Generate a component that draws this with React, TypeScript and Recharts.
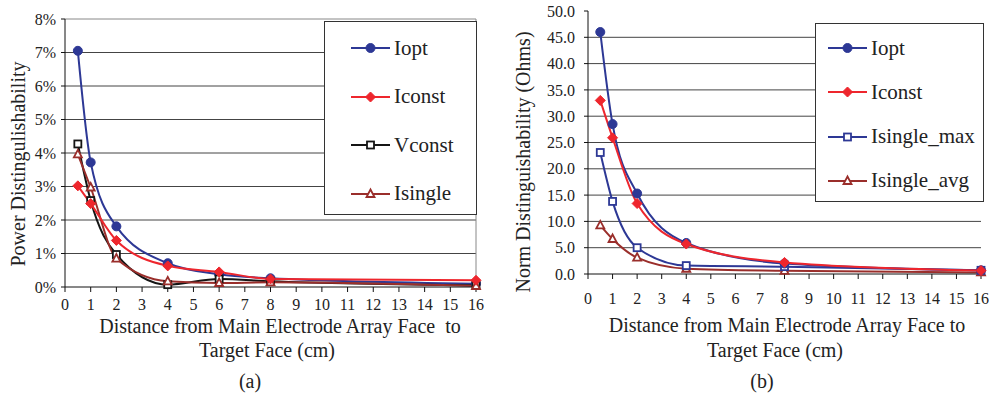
import { LineChart, Line, XAxis, YAxis, CartesianGrid, ReferenceLine } from 'recharts';

const SERIF = '"Liberation Serif", "Times New Roman", serif';

// (a) power distinguishability, percent
const distA = [0.5, 1, 2, 4, 6, 8, 16];
const ioptA = [7.05, 3.72, 1.81, 0.71, 0.38, 0.26, 0.1];
const iconstA = [3.02, 2.49, 1.39, 0.63, 0.45, 0.24, 0.2];
const vconstA = [4.27, 2.58, 0.97, 0.07, 0.24, 0.17, 0.05];
const isingleA = [3.96, 2.97, 0.85, 0.17, 0.12, 0.14, 0.03];

// (b) norm distinguishability, ohms
const distB = [0.5, 1, 2, 4, 8, 16];
const ioptB = [46.0, 28.5, 15.3, 5.9, 2.0, 0.7];
const iconstB = [33.0, 25.9, 13.4, 5.7, 2.2, 0.65];
const isMaxB = [23.1, 13.8, 5.0, 1.6, 1.4, 0.7];
const isAvgB = [9.25, 6.65, 3.1, 1.0, 0.6, 0.3];

const xTicks = [0, 1, 2, 3, 4, 5, 6, 7, 8, 9, 10, 11, 12, 13, 14, 15, 16];
const yTicksA = [0, 1, 2, 3, 4, 5, 6, 7, 8];
const yTicksB = [0, 5, 10, 15, 20, 25, 30, 35, 40, 45, 50];

const BLUE = '#2d3895';
const RED = '#ee262d';
const BLACK = '#151515';
const DARKRED = '#9a2e2b';

const dataA = distA.map((d, i) => ({ d, iopt: ioptA[i], iconst: iconstA[i], vconst: vconstA[i], isingle: isingleA[i] }));
const dataB = distB.map((d, i) => ({ d, iopt: ioptB[i], iconst: iconstB[i], isMax: isMaxB[i], isAvg: isAvgB[i] }));

type Shape = 'circle' | 'diamond' | 'square' | 'triangle';

const Marker = ({ x, y, shape, color }: { x: number; y: number; shape: Shape; color: string }) => {
  if (shape === 'circle') return <circle cx={x} cy={y} r={4.5} fill={color} stroke={color} />;
  if (shape === 'diamond')
    return <path d={`M${x},${y - 5}L${x + 5},${y}L${x},${y + 5}L${x - 5},${y}Z`} fill={color} stroke={color} />;
  if (shape === 'square')
    return <rect x={x - 3.5} y={y - 3.5} width={7} height={7} fill="#fff" stroke={color} strokeWidth={1.8} />;
  return <path d={`M${x},${y - 4.5}L${x + 4},${y + 3}L${x - 4},${y + 3}Z`} fill="#fff" stroke={color} strokeWidth={1.8} />;
};

const dotFor = (shape: Shape, color: string) => (p: any) => (
  <Marker key={p.index} x={p.cx} y={p.cy} shape={shape} color={color} />
);

type Item = { name: string; shape: Shape; color: string };

const LegendBox = ({ items, style, gap, first, pad }: { items: Item[]; style: any; gap: number; first: number; pad: number }) => (
  <div style={{ position: 'absolute', background: '#fff', border: '1px solid #333', boxSizing: 'border-box', ...style }}>
    {items.map((it, i) => (
      <div key={it.name} style={{ position: 'absolute', left: pad, top: first - 13 + i * gap, display: 'flex', alignItems: 'center', height: 26 }}>
        <svg width={39} height={14}>
          <line x1={0} y1={7} x2={39} y2={7} stroke={it.color} strokeWidth={2} />
          <Marker x={19.5} y={7} shape={it.shape} color={it.color} />
        </svg>
        <span style={{ fontFamily: SERIF, fontSize: 21, color: '#222', marginLeft: 4, whiteSpace: 'nowrap' }}>{it.name}</span>
      </div>
    ))}
  </div>
);

const tickStyle = { fontFamily: SERIF, fontSize: 16, fill: '#222' };

const Label = ({ left, top, children, size = 20 }: { left: number; top: number; children: any; size?: number }) => (
  <div
    style={{
      position: 'absolute', left, top, transform: 'translate(-50%, -50%)', fontFamily: SERIF,
      fontSize: size, color: '#222', whiteSpace: 'pre',
    }}
  >
    {children}
  </div>
);

const vLabel = { position: 'absolute' as const, transform: 'translate(-50%, -50%) rotate(-90deg)', fontFamily: SERIF, fontSize: 20, color: '#222', whiteSpace: 'nowrap' as const };

const App = () => {
  return (
    <div style={{ position: 'absolute', left: 0, top: 0, width: 989, height: 396, background: '#fff', overflow: 'hidden' }}>
      <div style={{ position: 'absolute', left: 0, top: 0 }}>
        <LineChart width={495} height={396} data={dataA} margin={{ top: 19, right: 19, bottom: 79, left: 0 }}>
          <CartesianGrid vertical={false} stroke="#444" horizontalValues={[1, 2, 3, 4, 5, 6, 7]} />
          <ReferenceLine y={8} stroke="#888" />
          <ReferenceLine x={16} stroke="#888" />
          <XAxis
            dataKey="d" type="number" domain={[0, 16]} ticks={xTicks} interval={0} height={30}
            stroke="#111" tickSize={5} tickMargin={7} tick={tickStyle}
          />
          <YAxis
            type="number" domain={[0, 8]} ticks={yTicksA} width={65} stroke="#111" tickSize={4} tickMargin={5}
            tick={tickStyle} tickFormatter={(v) => `${v}%`}
          />
          <Line type="monotone" dataKey="iopt" stroke={BLUE} strokeWidth={2} dot={dotFor('circle', BLUE)} isAnimationActive={false} />
          <Line type="monotone" dataKey="vconst" stroke={BLACK} strokeWidth={2} dot={dotFor('square', BLACK)} isAnimationActive={false} />
          <Line type="monotone" dataKey="isingle" stroke={DARKRED} strokeWidth={2} dot={dotFor('triangle', DARKRED)} isAnimationActive={false} />
          <Line type="monotone" dataKey="iconst" stroke={RED} strokeWidth={2} dot={dotFor('diamond', RED)} isAnimationActive={false} />
        </LineChart>
      </div>
      <div style={{ position: 'absolute', left: 495, top: 0 }}>
        <LineChart width={494} height={396} data={dataB} margin={{ top: 11, right: 8, bottom: 92, left: 0 }}>
          <CartesianGrid vertical={false} stroke="#444" horizontalValues={[5, 10, 15, 20, 25, 30, 35, 40, 45]} />
          <XAxis
            dataKey="d" type="number" domain={[0, 16]} ticks={xTicks} interval={0} height={30}
            stroke="#111" tickSize={5} tickMargin={14} tick={tickStyle}
          />
          <YAxis
            type="number" domain={[0, 50]} ticks={yTicksB} width={93} stroke="#111" tickSize={4} tickMargin={9}
            tick={tickStyle} tickFormatter={(v) => Number(v).toFixed(1)}
          />
          <Line type="monotone" dataKey="isAvg" stroke={DARKRED} strokeWidth={2} dot={dotFor('triangle', DARKRED)} isAnimationActive={false} />
          <Line type="monotone" dataKey="isMax" stroke={BLUE} strokeWidth={2} dot={dotFor('square', BLUE)} isAnimationActive={false} />
          <Line type="monotone" dataKey="iopt" stroke={BLUE} strokeWidth={2} dot={dotFor('circle', BLUE)} isAnimationActive={false} />
          <Line type="monotone" dataKey="iconst" stroke={RED} strokeWidth={2} dot={dotFor('diamond', RED)} isAnimationActive={false} />
        </LineChart>
      </div>

      <LegendBox
        style={{ left: 324, top: 21, width: 153, height: 194 }}
        gap={48.5}
        first={26}
        pad={26}
        items={[
          { name: 'Iopt', shape: 'circle', color: BLUE },
          { name: 'Iconst', shape: 'diamond', color: RED },
          { name: 'Vconst', shape: 'square', color: BLACK },
          { name: 'Isingle', shape: 'triangle', color: DARKRED },
        ]}
      />
      <LegendBox
        style={{ left: 815, top: 23, width: 169, height: 179 }}
        gap={44.3}
        first={24}
        pad={12}
        items={[
          { name: 'Iopt', shape: 'circle', color: BLUE },
          { name: 'Iconst', shape: 'diamond', color: RED },
          { name: 'Isingle_max', shape: 'square', color: BLUE },
          { name: 'Isingle_avg', shape: 'triangle', color: DARKRED },
        ]}
      />

      <div style={{ ...vLabel, left: 18, top: 164 }}>Power Distingulishability</div>
      <div style={{ ...vLabel, left: 523, top: 162 }}>Norm Distinguishability (Ohms)</div>

      <Label left={280} top={326}>{'Distance from Main Electrode Array Face  to'}</Label>
      <Label left={267} top={350}>Target Face (cm)</Label>
      <Label left={250} top={381}>(a)</Label>
      <Label left={787} top={325}>Distance from Main Electrode Array Face to</Label>
      <Label left={775} top={350}>Target Face (cm)</Label>
      <Label left={762} top={381}>(b)</Label>
    </div>
  );
};

export default App;
